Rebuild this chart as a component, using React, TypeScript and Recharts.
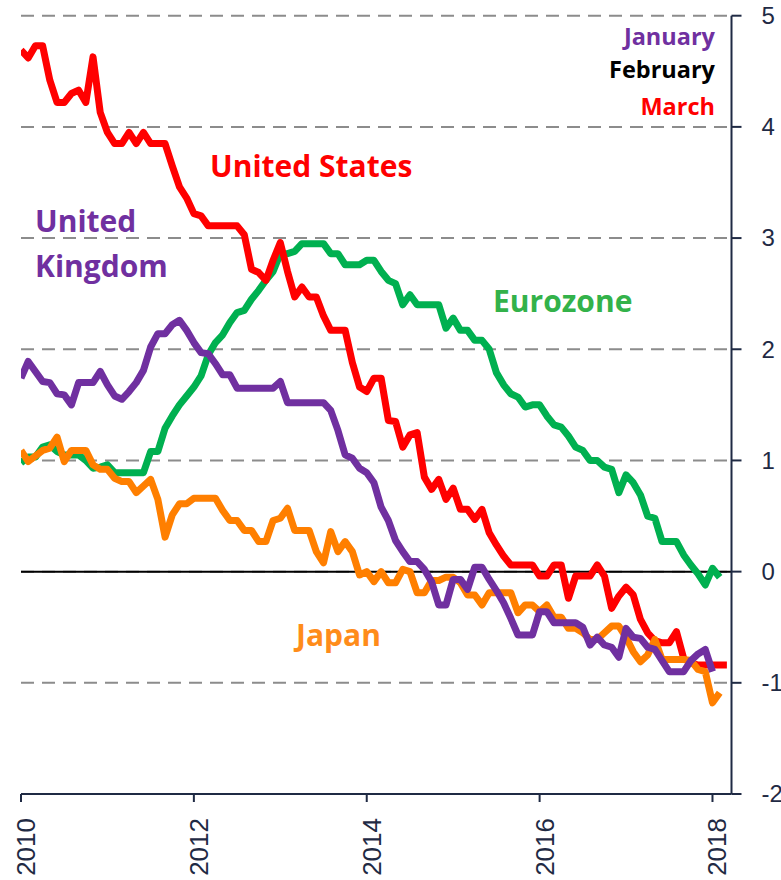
import React from 'react';
import { LineChart, Line, XAxis, YAxis, CartesianGrid, ReferenceLine, Customized } from 'recharts';

// monthly values from Jan 2010
const startYear = 2010;
const usRate = [4.69, 4.62, 4.73, 4.73, 4.42, 4.22, 4.22, 4.30, 4.33, 4.22, 4.63, 4.13, 3.95, 3.85, 3.85, 3.95, 3.85, 3.95, 3.85, 3.85, 3.85, 3.65, 3.46, 3.36, 3.22, 3.20, 3.11, 3.11, 3.11, 3.11, 3.11, 3.03, 2.72, 2.69, 2.62, 2.80, 2.96, 2.70, 2.47, 2.56, 2.47, 2.47, 2.30, 2.17, 2.17, 2.17, 1.88, 1.66, 1.62, 1.74, 1.74, 1.36, 1.35, 1.12, 1.23, 1.25, 0.85, 0.74, 0.83, 0.65, 0.75, 0.56, 0.56, 0.47, 0.56, 0.35, 0.24, 0.14, 0.06, 0.06, 0.06, 0.06, -0.04, -0.04, 0.06, 0.06, -0.24, -0.04, -0.04, -0.04, 0.06, -0.04, -0.33, -0.22, -0.14, -0.21, -0.43, -0.55, -0.62, -0.64, -0.64, -0.54, -0.78, -0.82, -0.84, -0.84, -0.84, -0.84, -0.84];
const ukRate = [1.74, 1.89, 1.80, 1.71, 1.70, 1.60, 1.59, 1.50, 1.70, 1.70, 1.70, 1.80, 1.68, 1.58, 1.55, 1.62, 1.70, 1.81, 2.02, 2.14, 2.14, 2.22, 2.26, 2.17, 2.06, 1.97, 1.96, 1.87, 1.77, 1.77, 1.65, 1.65, 1.65, 1.65, 1.65, 1.65, 1.71, 1.52, 1.52, 1.52, 1.52, 1.52, 1.52, 1.45, 1.27, 1.05, 1.02, 0.93, 0.89, 0.80, 0.58, 0.46, 0.28, 0.18, 0.09, 0.09, 0.02, -0.09, -0.30, -0.30, -0.07, -0.07, -0.16, 0.04, 0.04, -0.07, -0.17, -0.28, -0.42, -0.57, -0.57, -0.57, -0.36, -0.36, -0.46, -0.46, -0.46, -0.46, -0.50, -0.66, -0.59, -0.66, -0.68, -0.77, -0.51, -0.59, -0.60, -0.68, -0.70, -0.80, -0.90, -0.90, -0.90, -0.80, -0.74, -0.70, -0.90];
const ezRate = [0.98, 1.03, 1.03, 1.12, 1.14, 1.08, 1.05, 1.05, 1.05, 1.00, 0.93, 0.94, 0.96, 0.89, 0.89, 0.89, 0.89, 0.89, 1.08, 1.08, 1.29, 1.40, 1.50, 1.58, 1.66, 1.76, 1.95, 2.06, 2.13, 2.24, 2.33, 2.35, 2.45, 2.53, 2.62, 2.70, 2.86, 2.86, 2.88, 2.95, 2.95, 2.95, 2.95, 2.86, 2.86, 2.76, 2.76, 2.76, 2.80, 2.80, 2.70, 2.62, 2.59, 2.40, 2.49, 2.40, 2.40, 2.40, 2.40, 2.19, 2.28, 2.17, 2.17, 2.08, 2.08, 2.00, 1.79, 1.68, 1.60, 1.57, 1.48, 1.50, 1.50, 1.40, 1.32, 1.30, 1.22, 1.12, 1.09, 1.00, 1.00, 0.94, 0.92, 0.71, 0.87, 0.80, 0.69, 0.50, 0.48, 0.27, 0.27, 0.27, 0.15, 0.06, -0.02, -0.12, 0.03, -0.05];
const jpRate = [1.09, 0.99, 1.04, 1.09, 1.11, 1.21, 0.99, 1.09, 1.09, 1.09, 0.96, 0.92, 0.92, 0.84, 0.81, 0.81, 0.71, 0.77, 0.83, 0.65, 0.31, 0.51, 0.61, 0.61, 0.66, 0.66, 0.66, 0.66, 0.55, 0.46, 0.46, 0.37, 0.37, 0.27, 0.27, 0.46, 0.48, 0.57, 0.37, 0.37, 0.37, 0.18, 0.08, 0.36, 0.18, 0.27, 0.18, -0.03, 0.00, -0.09, 0.00, -0.10, -0.10, 0.02, 0.00, -0.19, -0.19, -0.08, -0.08, -0.05, -0.05, -0.10, -0.21, -0.21, -0.30, -0.19, -0.19, -0.19, -0.19, -0.37, -0.30, -0.30, -0.36, -0.30, -0.41, -0.41, -0.51, -0.51, -0.55, -0.61, -0.61, -0.55, -0.49, -0.49, -0.59, -0.72, -0.81, -0.75, -0.61, -0.79, -0.79, -0.79, -0.79, -0.80, -0.88, -0.90, -1.18, -1.09];

const yearTicks = [2010, 2012, 2014, 2016, 2018];
const rateTicks = [-2, -1, 0, 1, 2, 3, 4, 5];

const data = usRate.map((_, i) => ({
    t: startYear + i / 12,
    us: usRate[i],
    uk: ukRate[i],
    ez: ezRate[i],
    jp: jpRate[i],
}));

const AXIS = '#1f2a44';
const LABEL_FONT = '"Open Sans", sans-serif';
const LINE_W = 7;

const YearTick = ({ x, y, payload }: any) => (
    <text
        transform={`translate(${x + 14},${y + 14}) rotate(-90)`}
        textAnchor="end"
        fill={AXIS}
        fontSize={26}
        fontFamily="'Liberation Sans', Arial, sans-serif"
    >
        {payload.value}
    </text>
);

const RateTick = ({ x, y, payload }: any) => (
    <text x={x} y={y} dy="0.35em" textAnchor="start" fill={AXIS} fontSize={24} fontFamily="'Liberation Sans', Arial, sans-serif">
        {payload.value}
    </text>
);

const Labels = () => (
    <g fontFamily={LABEL_FONT} fontWeight="bold">
        <text x={715} y={45} textAnchor="end" fill="#7030a0" fontSize={23.5}>January</text>
        <text x={715} y={78} textAnchor="end" fill="#000000" fontSize={23.5}>February</text>
        <text x={715} y={115} textAnchor="end" fill="#ff0000" fontSize={23.5}>March</text>
        <text x={210} y={177} fill="#ff0000" fontSize={30}>United States</text>
        <text x={35} y={232} fill="#7030a0" fontSize={30}>United</text>
        <text x={35} y={277} fill="#7030a0" fontSize={30}>Kingdom</text>
        <text x={493} y={312} fill="#33b24a" fontSize={30}>Eurozone</text>
        <text x={296} y={646} fill="#ff8c1a" fontSize={30}>Japan</text>
    </g>
);

export default function App() {
    return (
        <div style={{ position: 'absolute', left: 0, top: 0 }}>
            <LineChart width={781} height={880} data={data} margin={{ top: 15.7, right: 0, bottom: 0, left: 21 }}>
                <CartesianGrid horizontal vertical={false} stroke="#8c8c8c" strokeWidth={2} strokeDasharray="13 8" />
                <XAxis
                    dataKey="t"
                    type="number"
                    domain={[2010, 2018.22]}
                    ticks={yearTicks}
                    allowDataOverflow
                    height={86}
                    axisLine={{ stroke: AXIS, strokeWidth: 2 }}
                    tickLine={{ stroke: AXIS, strokeWidth: 2 }}
                    tickSize={8}
                    tick={<YearTick />}
                />
                <YAxis
                    orientation="right"
                    type="number"
                    domain={[-2, 5]}
                    ticks={rateTicks}
                    width={49.5}
                    axisLine={{ stroke: AXIS, strokeWidth: 2 }}
                    tickLine={{ stroke: AXIS, strokeWidth: 2 }}
                    tickSize={10}
                    tickMargin={20}
                    tick={<RateTick />}
                />
                <ReferenceLine y={0} stroke="#000000" strokeWidth={2} />
                <Line dataKey="ez" stroke="#00b050" strokeWidth={LINE_W} dot={false} strokeLinejoin="round" isAnimationActive={false} />
                <Line dataKey="us" stroke="#ff0000" strokeWidth={LINE_W} dot={false} strokeLinejoin="round" isAnimationActive={false} />
                <Line dataKey="jp" stroke="#ff7f00" strokeWidth={LINE_W} dot={false} strokeLinejoin="round" isAnimationActive={false} />
                <Line dataKey="uk" stroke="#7030a0" strokeWidth={LINE_W} dot={false} strokeLinejoin="round" isAnimationActive={false} />
                <Customized component={<Labels />} />
            </LineChart>
        </div>
    );
}
